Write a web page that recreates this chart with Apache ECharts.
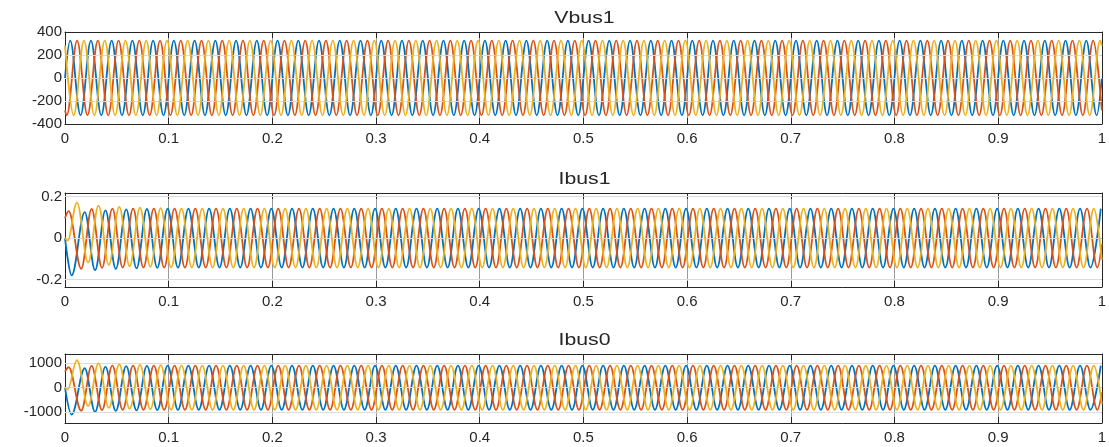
<!DOCTYPE html>
<html>
<head>
<meta charset="utf-8">
<title>Vbus1 / Ibus1 / Ibus0</title>
<script src="https://cdn.jsdelivr.net/npm/echarts@6/dist/echarts.min.js"></script>
<style>
  html, body { margin: 0; padding: 0; background: #ffffff; }
  #chart { width: 1109px; height: 447px; }
</style>
</head>
<body>
<div id="chart"></div>
<script>
// Three-phase bus quantities over 1 s (50 Hz supply).
// Each phase is stored as the run of its successive extrema (peak / trough values);
// consecutive extrema are half a cycle apart.
const HALF_PERIOD = 0.01;            // s
const X_TICKS = [0, 0.1, 0.2, 0.3, 0.4, 0.5, 0.6, 0.7, 0.8, 0.9, 1];
const PANEL_TITLES = ['Vbus1', 'Ibus1', 'Ibus0'];
const PHASE_COLORS = ['#0072BD', '#D95319', '#EDB120'];

// ---------- Vbus1 (V) ----------
const vbus1Range = [-400, 400];
const vbus1Ticks = [-400, -200, 0, 200, 400];
const vbus1Lead = [[[0, 0]], [[0, -281]], [[0, 281]]];
const vbus1First = [0.005, 0.001667, 0.008333];
const vbus1Tail = [[1, 0], [1, -281], [1, 281]];
const vbus1A = [
  325,-325,325,-325,325,-325,325,-325,325,-325, 325,-325,325,-325,325,-325,325,-325,325,-325,
  325,-325,325,-325,325,-325,325,-325,325,-325, 325,-325,325,-325,325,-325,325,-325,325,-325,
  325,-325,325,-325,325,-325,325,-325,325,-325, 325,-325,325,-325,325,-325,325,-325,325,-325,
  325,-325,325,-325,325,-325,325,-325,325,-325, 325,-325,325,-325,325,-325,325,-325,325,-325,
  325,-325,325,-325,325,-325,325,-325,325,-325, 325,-325,325,-325,325,-325,325,-325,325,-325
];
const vbus1B = [
  -325,325,-325,325,-325,325,-325,325,-325,325, -325,325,-325,325,-325,325,-325,325,-325,325,
  -325,325,-325,325,-325,325,-325,325,-325,325, -325,325,-325,325,-325,325,-325,325,-325,325,
  -325,325,-325,325,-325,325,-325,325,-325,325, -325,325,-325,325,-325,325,-325,325,-325,325,
  -325,325,-325,325,-325,325,-325,325,-325,325, -325,325,-325,325,-325,325,-325,325,-325,325,
  -325,325,-325,325,-325,325,-325,325,-325,325, -325,325,-325,325,-325,325,-325,325,-325,325
];
const vbus1C = [
  -325,325,-325,325,-325,325,-325,325,-325,325, -325,325,-325,325,-325,325,-325,325,-325,325,
  -325,325,-325,325,-325,325,-325,325,-325,325, -325,325,-325,325,-325,325,-325,325,-325,325,
  -325,325,-325,325,-325,325,-325,325,-325,325, -325,325,-325,325,-325,325,-325,325,-325,325,
  -325,325,-325,325,-325,325,-325,325,-325,325, -325,325,-325,325,-325,325,-325,325,-325,325,
  -325,325,-325,325,-325,325,-325,325,-325,325, -325,325,-325,325,-325,325,-325,325,-325,325
];

// ---------- Ibus1 (A) ----------
const ibus1Range = [-0.236, 0.217];
const ibus1Ticks = [-0.2, 0, 0.2];
const ibus1Lead = [
  [[0, 0], [0.0064, -0.18]],
  [[0, 0.095], [0.0035, 0.13]],
  [[0, 0], [0.0025, -0.012], [0.0115, 0.171]]
];
const ibus1First = [0.019, 0.01567, 0.02233];
const ibus1Tail = [null, [1, -0.03], [1, -0.105]];
const ibus1A = [
  0.125,-0.155,0.133,-0.149,0.138,-0.146,0.14,-0.144,0.141,-0.143,
  0.142,-0.142,0.142,-0.142,0.142,-0.142,0.142,-0.142,0.142,-0.142,
  0.142,-0.142,0.142,-0.142,0.142,-0.142,0.142,-0.142,0.142,-0.142,
  0.142,-0.142,0.142,-0.142,0.142,-0.142,0.142,-0.142,0.142,-0.142,
  0.142,-0.142,0.142,-0.142,0.142,-0.142,0.142,-0.142,0.142,-0.142,
  0.142,-0.142,0.142,-0.142,0.142,-0.142,0.142,-0.142,0.142,-0.142,
  0.142,-0.142,0.142,-0.142,0.142,-0.142,0.142,-0.142,0.142,-0.142,
  0.142,-0.142,0.142,-0.142,0.142,-0.142,0.142,-0.142,0.142,-0.142,
  0.142,-0.142,0.142,-0.142,0.142,-0.142,0.142,-0.142,0.142,-0.142,
  0.142,-0.142,0.142,-0.142,0.142,-0.142,0.142,-0.142,0.142
];
const ibus1B = [
  -0.148,0.14,-0.144,0.142,-0.142,0.142,-0.142,0.142,-0.142,0.142,
  -0.142,0.142,-0.142,0.142,-0.142,0.142,-0.142,0.142,-0.142,0.142,
  -0.142,0.142,-0.142,0.142,-0.142,0.142,-0.142,0.142,-0.142,0.142,
  -0.142,0.142,-0.142,0.142,-0.142,0.142,-0.142,0.142,-0.142,0.142,
  -0.142,0.142,-0.142,0.142,-0.142,0.142,-0.142,0.142,-0.142,0.142,
  -0.142,0.142,-0.142,0.142,-0.142,0.142,-0.142,0.142,-0.142,0.142,
  -0.142,0.142,-0.142,0.142,-0.142,0.142,-0.142,0.142,-0.142,0.142,
  -0.142,0.142,-0.142,0.142,-0.142,0.142,-0.142,0.142,-0.142,0.142,
  -0.142,0.142,-0.142,0.142,-0.142,0.142,-0.142,0.142,-0.142,0.142,
  -0.142,0.142,-0.142,0.142,-0.142,0.142,-0.142,0.142,-0.142
];
const ibus1C = [
  -0.118,0.156,-0.13,0.15,-0.136,0.146,-0.139,0.144,-0.142,0.142,
  -0.142,0.142,-0.142,0.142,-0.142,0.142,-0.142,0.142,-0.142,0.142,
  -0.142,0.142,-0.142,0.142,-0.142,0.142,-0.142,0.142,-0.142,0.142,
  -0.142,0.142,-0.142,0.142,-0.142,0.142,-0.142,0.142,-0.142,0.142,
  -0.142,0.142,-0.142,0.142,-0.142,0.142,-0.142,0.142,-0.142,0.142,
  -0.142,0.142,-0.142,0.142,-0.142,0.142,-0.142,0.142,-0.142,0.142,
  -0.142,0.142,-0.142,0.142,-0.142,0.142,-0.142,0.142,-0.142,0.142,
  -0.142,0.142,-0.142,0.142,-0.142,0.142,-0.142,0.142,-0.142,0.142,
  -0.142,0.142,-0.142,0.142,-0.142,0.142,-0.142,0.142,-0.142,0.142,
  -0.142,0.142,-0.142,0.142,-0.142,0.142,-0.142,0.142
];

// ---------- Ibus0 (A) ----------
const ibus0Range = [-1440, 1370];
const ibus0Ticks = [-1000, 0, 1000];
const ibus0Lead = [
  [[0, 0], [0.0064, -1100]],
  [[0, 650], [0.0035, 830]],
  [[0, 0], [0.0025, -80], [0.0115, 1120]]
];
const ibus0First = [0.019, 0.01567, 0.02233];
const ibus0Tail = [null, [1, -190], [1, -670]];
const ibus0A = [
  790,-985,845,-945,875,-925,888,-912,895,-905,
  900,-900,900,-900,900,-900,900,-900,900,-900,
  900,-900,900,-900,900,-900,900,-900,900,-900,
  900,-900,900,-900,900,-900,900,-900,900,-900,
  900,-900,900,-900,900,-900,900,-900,900,-900,
  900,-900,900,-900,900,-900,900,-900,900,-900,
  900,-900,900,-900,900,-900,900,-900,900,-900,
  900,-900,900,-900,900,-900,900,-900,900,-900,
  900,-900,900,-900,900,-900,900,-900,900,-900,
  900,-900,900,-900,900,-900,900,-900,900
];
const ibus0B = [
  -940,890,-915,900,-900,900,-900,900,-900,900,
  -900,900,-900,900,-900,900,-900,900,-900,900,
  -900,900,-900,900,-900,900,-900,900,-900,900,
  -900,900,-900,900,-900,900,-900,900,-900,900,
  -900,900,-900,900,-900,900,-900,900,-900,900,
  -900,900,-900,900,-900,900,-900,900,-900,900,
  -900,900,-900,900,-900,900,-900,900,-900,900,
  -900,900,-900,900,-900,900,-900,900,-900,900,
  -900,900,-900,900,-900,900,-900,900,-900,900,
  -900,900,-900,900,-900,900,-900,900,-900
];
const ibus0C = [
  -750,990,-825,950,-860,925,-880,912,-900,900,
  -900,900,-900,900,-900,900,-900,900,-900,900,
  -900,900,-900,900,-900,900,-900,900,-900,900,
  -900,900,-900,900,-900,900,-900,900,-900,900,
  -900,900,-900,900,-900,900,-900,900,-900,900,
  -900,900,-900,900,-900,900,-900,900,-900,900,
  -900,900,-900,900,-900,900,-900,900,-900,900,
  -900,900,-900,900,-900,900,-900,900,-900,900,
  -900,900,-900,900,-900,900,-900,900,-900,900,
  -900,900,-900,900,-900,900,-900,900
];

// ---------- assembly ----------
const FONT = 'Liberation Sans';
const TEXT_COLOR = '#262626';

// Plain number text, no thousands separators, no float noise.
const plain = v => String(Math.round(v * 1e6) / 1e6);

// A phase trace: lead-in samples, then one point per extremum, then the end sample.
function phaseTrace(lead, first, extrema, tail) {
  const pts = lead.map(p => p.slice());
  extrema.forEach((v, k) => pts.push([first + k * HALF_PERIOD, v]));
  if (tail) pts.push(tail.slice());
  return pts;
}

const panels = [
  { range: vbus1Range, ticks: vbus1Ticks, lead: vbus1Lead, first: vbus1First, tail: vbus1Tail, phases: [vbus1A, vbus1B, vbus1C] },
  { range: ibus1Range, ticks: ibus1Ticks, lead: ibus1Lead, first: ibus1First, tail: ibus1Tail, phases: [ibus1A, ibus1B, ibus1C] },
  { range: ibus0Range, ticks: ibus0Ticks, lead: ibus0Lead, first: ibus0First, tail: ibus0Tail, phases: [ibus0A, ibus0B, ibus0C] }
];

const gridBoxes = [
  { top: 32, height: 92 },
  { top: 193, height: 94 },
  { top: 354, height: 69 }
];
const LEFT = 65, RIGHT = 5;

const grid = [], xAxis = [], yAxis = [], series = [], graphic = [];

panels.forEach((p, i) => {
  grid.push({ left: LEFT, right: RIGHT, top: gridBoxes[i].top, height: gridBoxes[i].height, containLabel: false });

  const axisLine = { show: true, onZero: false, lineStyle: { color: TEXT_COLOR, width: 1 } };
  const tick = { show: true, inside: true, length: 6, lineStyle: { color: TEXT_COLOR, width: 1 } };

  // bottom time axis with labels and vertical grid
  xAxis.push({
    type: 'value', gridIndex: i, position: 'bottom', min: 0, max: 1, interval: 0.1,
    axisLine, axisTick: tick,
    axisLabel: { show: true, margin: 7, fontFamily: FONT, fontSize: 15, color: TEXT_COLOR,
                 customValues: X_TICKS, formatter: plain },
    splitLine: { show: true, lineStyle: { color: '#9a9a9a', width: 1 } }
  });
  // top edge of the box
  xAxis.push({
    type: 'value', gridIndex: i, position: 'top', min: 0, max: 1, interval: 0.1,
    axisLine, axisTick: tick, axisLabel: { show: false }, splitLine: { show: false }
  });
  // left value axis
  yAxis.push({
    type: 'value', gridIndex: i, position: 'left', min: p.range[0], max: p.range[1],
    axisLine, axisTick: Object.assign({}, tick, { customValues: p.ticks }),
    axisLabel: { show: true, margin: 3, fontFamily: FONT, fontSize: 15, color: TEXT_COLOR,
                 customValues: p.ticks, formatter: plain },
    splitLine: { show: false }
  });
  // right edge of the box
  yAxis.push({
    type: 'value', gridIndex: i, position: 'right', min: p.range[0], max: p.range[1],
    axisLine, axisTick: Object.assign({}, tick, { customValues: p.ticks }),
    axisLabel: { show: false }, splitLine: { show: false }
  });

  p.phases.forEach((ext, k) => {
    const s = {
      type: 'line',
      name: PANEL_TITLES[i] + ' ' + 'ABC'[k],
      xAxisIndex: 2 * i, yAxisIndex: 2 * i,
      data: phaseTrace(p.lead[k], p.first[k], ext, p.tail[k]),
      showSymbol: false, symbol: 'none',
      smooth: 0.36, smoothMonotone: 'x',
      lineStyle: { color: PHASE_COLORS[k], width: 1.8 },
      itemStyle: { color: PHASE_COLORS[k] },
      z: 3 + k,
      silent: true, animation: false
    };
    if (k === 0) {
      // horizontal grid lines at the inner value ticks
      s.markLine = {
        silent: true, symbol: ['none', 'none'], animation: false,
        label: { show: false },
        lineStyle: { color: '#dcdcdc', width: 1, type: 'solid' },
        data: p.ticks.filter(v => v > p.range[0] && v < p.range[1]).map(v => ({ yAxis: v }))
      };
    }
    series.push(s);
  });

  graphic.push({
    type: 'text',
    x: LEFT + (1109 - LEFT - RIGHT) / 2,
    y: gridBoxes[i].top - 14,
    scaleX: 1.25,
    style: {
      text: PANEL_TITLES[i], fontFamily: FONT, fontSize: 17, fill: TEXT_COLOR,
      align: 'center', verticalAlign: 'middle'
    }
  });
});

const chart = echarts.init(document.getElementById('chart'), null, { renderer: 'canvas' });
chart.setOption({
  backgroundColor: '#ffffff',
  animation: false,
  grid, xAxis, yAxis, series, graphic
});
</script>
</body>
</html>
